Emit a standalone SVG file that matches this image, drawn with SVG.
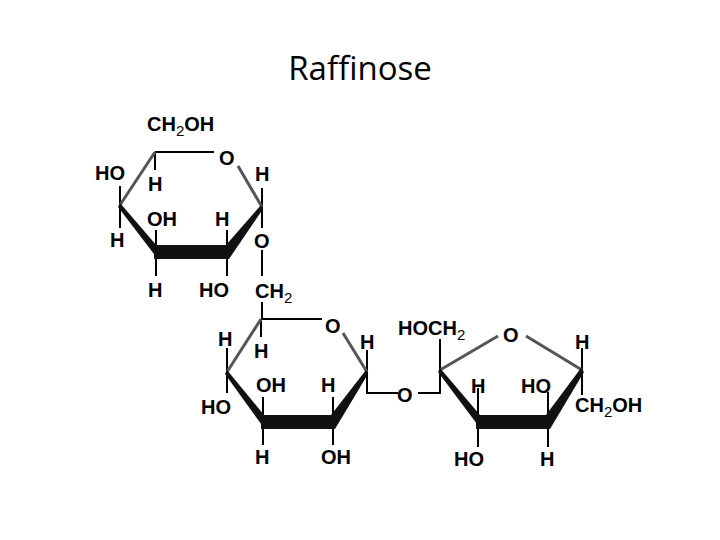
<svg xmlns="http://www.w3.org/2000/svg" width="720" height="540" viewBox="0 0 720 540">
<style>
.t{font-family:"Liberation Sans",Arial,sans-serif;font-weight:bold;font-size:20px;fill:#000}
.s{font-size:15px;font-weight:normal}
.b{stroke:#000;stroke-width:2;fill:none}
.g{stroke:#555;stroke-width:3;fill:none}
.w{fill:#111}
</style>
<rect width="720" height="540" fill="#fff"/>
<text x="360" y="80" text-anchor="middle" font-family="Open Sans,Lato,sans-serif" font-size="33" fill="#000">Raffinose</text>
<g id="ring1">
<path class="b" d="M155,152 H214 M155,152 V170 M120,205 V186 M120,205 V228 M156,252 V230 M156,252 V276 M227,252 V230 M227,252 V276 M262,207 V188 M262,207 V228 M262,250 V276"/>
<path class="g" d="M155,152 L120,205 M238,166 L262,207"/>
<polygon class="w" points="120,203 157,246 157,258 118,207"/>
<polygon class="w" points="154,245 229,245 229,259 154,259"/>
<polygon class="w" points="226,245 261,205 263,209 229,259"/>
<text class="t" x="147" y="131">CH<tspan class="s" dy="5">2</tspan><tspan dy="-5">OH</tspan></text>
<text class="t" x="219" y="165">O</text>
<text class="t" x="95" y="180">HO</text>
<text class="t" x="148" y="191">H</text>
<text class="t" x="255" y="181">H</text>
<text class="t" x="110" y="247">H</text>
<text class="t" x="147" y="226">OH</text>
<text class="t" x="215" y="226">H</text>
<text class="t" x="254" y="248">O</text>
<text class="t" x="148" y="297">H</text>
<text class="t" x="199" y="297">HO</text>
<text class="t" x="255" y="298">CH<tspan class="s" dy="5">2</tspan></text>
</g>
<g id="ring2">
<path class="b" d="M262,302 V319 M261,319 H322 M261,319 V337 M227,372 V348 M227,372 V393 M263,422 V397 M263,422 V445 M333,422 V397 M333,422 V445 M367,372 V350 M367,372 V393 H398"/>
<path class="g" d="M261,319 L227,372 M343,333 L367,372"/>
<polygon class="w" points="227,370 264,415 264,428 225,374"/>
<polygon class="w" points="261,415 335,415 335,429 261,429"/>
<polygon class="w" points="331,415 366,370 368,374 335,429"/>
<text class="t" x="325" y="333">O</text>
<text class="t" x="218" y="346">H</text>
<text class="t" x="254" y="358">H</text>
<text class="t" x="360" y="349">H</text>
<text class="t" x="201" y="414">HO</text>
<text class="t" x="256" y="392">OH</text>
<text class="t" x="321" y="392">H</text>
<text class="t" x="397" y="402">O</text>
<text class="t" x="255" y="464">H</text>
<text class="t" x="321" y="464">OH</text>
</g>
<g id="ring3">
<path class="b" d="M418,393 H440 V339 M478,422 V388 M478,422 V447 M548,422 V392 M548,422 V447 M582,370 V348 M582,370 V395"/>
<path class="g" d="M440,370 L498,336 M526,336 L582,370"/>
<polygon class="w" points="440,368 480,415 480,428 438,372"/>
<polygon class="w" points="476,415 550,415 550,429 476,429"/>
<polygon class="w" points="546,415 581,368 584,372 550,429"/>
<text class="t" x="398" y="335">HOCH<tspan class="s" dy="5">2</tspan></text>
<text class="t" x="503" y="342">O</text>
<text class="t" x="575" y="349">H</text>
<text class="t" x="471" y="393">H</text>
<text class="t" x="521" y="393">HO</text>
<text class="t" x="575" y="412">CH<tspan class="s" dy="5">2</tspan><tspan dy="-5">OH</tspan></text>
<text class="t" x="454" y="466">HO</text>
<text class="t" x="540" y="466">H</text>
</g>
</svg>
